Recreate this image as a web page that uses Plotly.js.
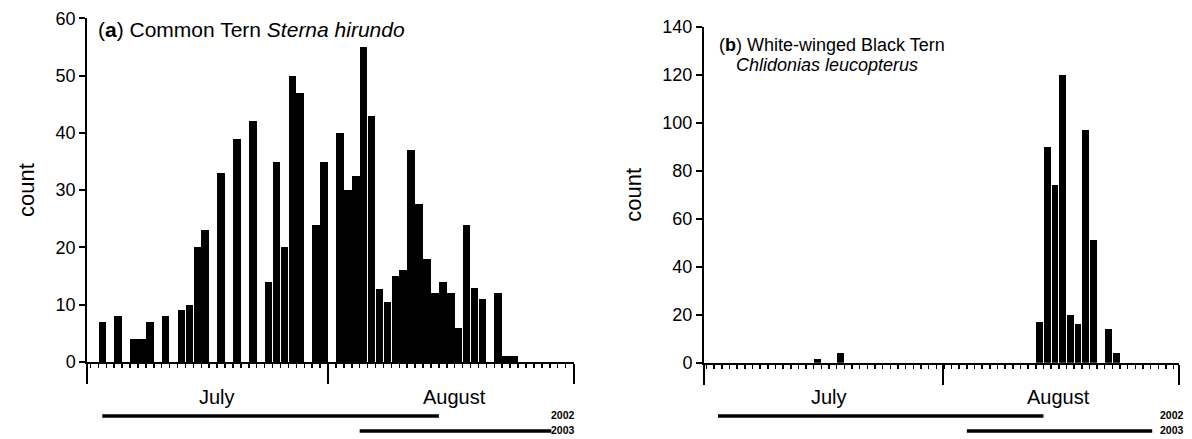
<!DOCTYPE html>
<html>
<head>
<meta charset="utf-8">
<script src="https://cdn.plot.ly/plotly-3.0.1.min.js"></script>
<style>html,body{margin:0;padding:0;background:#fff;}#chart{width:1192px;height:439px;}</style>
</head>
<body>
<div id="chart"></div>
<script>
// Day index (0 = start of July) and counts, panel (a) Common Tern
const daysA = [2,4,6,7,8,10,12,13,14,15,17,19,21,23,24,25,26,27,29,30,32,33,34,35,36,37,38,39,40,41,42,43,44,45,46,47,48,49,50,52,53,54];
const countsA = [7,8,4,4,7,8,9,10,20,23,33,39,42,14,35,20,50,47,24,35,40,30,32.5,55,43,12.7,10.5,15,16,37,27.5,18,12,14,12,6,24,13,11,12,1,1];
// Panel (b) White-winged Black Tern
const daysB = [15,18,44,45,46,47,48,49,50,51,53,54];
const countsB = [1.5,4,17,90,74,120,20,16,97,51,14,4];
// Month labels and observation periods (day index)
const monthNames = ['July','August'];
const monthLabelDays = [16.5,46.5];
const period2002 = [2,44.5];
const period2003 = [34.5,58.7];
const yearLabels = ['2002','2003'];
const yTicksA = [0,10,20,30,40,50,60];
const yTicksB = [0,20,40,60,80,100,120,140];

const FONT = 'Liberation Sans, Arial, sans-serif';
const rangeA = [0.1, 61.6], monthTicksA = [0.1, 30.5, 61.6];
const rangeB = [0.17, 62.2], monthTicksB = [0.17, 31.4, 62.2];

const traces = [
  {type:'bar', x:daysA, y:countsA, xaxis:'x', yaxis:'y', width:0.96,
   marker:{color:'#000', line:{width:0}}, hoverinfo:'x+y'},
  {type:'bar', x:daysB, y:countsB, xaxis:'x2', yaxis:'y2', width:0.86,
   marker:{color:'#000', line:{width:0}}, hoverinfo:'x+y'}
];

function xax(domain, range, ticks, anchor){
  return {domain:domain, range:range, anchor:anchor, showline:true, linewidth:2, linecolor:'#000',
    ticks:'outside', ticklen:20, tickwidth:2, tickcolor:'#000', tickmode:'array', tickvals:ticks,
    showticklabels:false, showgrid:false, zeroline:false, fixedrange:true,
    minor:{ticks:'outside', tick0:0.5, dtick:1, ticklen:4, tickwidth:1.5, tickcolor:'#000', showgrid:false}};
}
function yax(domain, range, tickvals, anchor){
  return {domain:domain, range:range, anchor:anchor, showline:true, linewidth:2, linecolor:'#000',
    ticks:'outside', ticklen:6, tickwidth:2, tickcolor:'#000', tickmode:'array', tickvals:tickvals,
    tickfont:{family:FONT, size:18, color:'#000'}, showgrid:false, zeroline:false, fixedrange:true,
    title:{text:'count', font:{family:FONT, size:22, color:'#000'}, standoff:15}};
}

const shapes = [];
const annotations = [];
[['x', 58.4], ['x2', 59.4]].forEach(([xr, labelX]) => {
  shapes.push({type:'line', xref:xr, yref:'paper', x0:period2002[0], x1:period2002[1], y0:0.0524, y1:0.0524, line:{color:'#000', width:3.5}});
  shapes.push({type:'line', xref:xr, yref:'paper', x0:period2003[0], x1:period2003[1], y0:0.0182, y1:0.0182, line:{color:'#000', width:3.5}});
  monthNames.forEach((m,i) => annotations.push({xref:xr, yref:'paper', x:monthLabelDays[i], y:0.095, text:m, showarrow:false,
    xanchor:'center', yanchor:'middle', font:{family:FONT, size:20, color:'#000'}}));
  annotations.push({xref:xr, yref:'paper', x:labelX, y:0.055, text:'<b>'+yearLabels[0]+'</b>', showarrow:false,
    xanchor:'left', yanchor:'middle', font:{family:FONT, size:10.5, color:'#000'}});
  annotations.push({xref:xr, yref:'paper', x:labelX, y:0.02, text:'<b>'+yearLabels[1]+'</b>', showarrow:false,
    xanchor:'left', yanchor:'middle', font:{family:FONT, size:10.5, color:'#000'}});
});
annotations.push({xref:'paper', yref:'paper', x:0.0805, y:0.932, xanchor:'left', yanchor:'middle', showarrow:false,
  text:'(<b>a</b>) Common Tern <i>Sterna hirundo</i>', font:{family:FONT, size:21, color:'#000'}});
annotations.push({xref:'paper', yref:'paper', x:0.6015, y:0.898, xanchor:'left', yanchor:'middle', showarrow:false,
  text:'(<b>b</b>) White-winged Black Tern', font:{family:FONT, size:18, color:'#000'}});
annotations.push({xref:'paper', yref:'paper', x:0.616, y:0.851, xanchor:'left', yanchor:'middle', showarrow:false,
  text:'<i>Chlidonias leucopterus</i>', font:{family:FONT, size:18, color:'#000'}});

const layout = {
  width:1192, height:439, margin:{l:0, r:0, t:0, b:0}, paper_bgcolor:'#fff', plot_bgcolor:'#fff',
  showlegend:false, bargap:0, font:{family:FONT, color:'#000'},
  xaxis: xax([0.0732, 0.4818], rangeA, monthTicksA, 'y'),
  yaxis: yax([0.1754, 0.9583], [0,60], yTicksA, 'x'),
  xaxis2: xax([0.5906, 0.9891], rangeB, monthTicksB, 'y2'),
  yaxis2: yax([0.1738, 0.9383], [0,140], yTicksB, 'x2'),
  shapes: shapes, annotations: annotations
};
Plotly.newPlot('chart', traces, layout, {displayModeBar:false, staticPlot:true});
</script>
</body>
</html>
